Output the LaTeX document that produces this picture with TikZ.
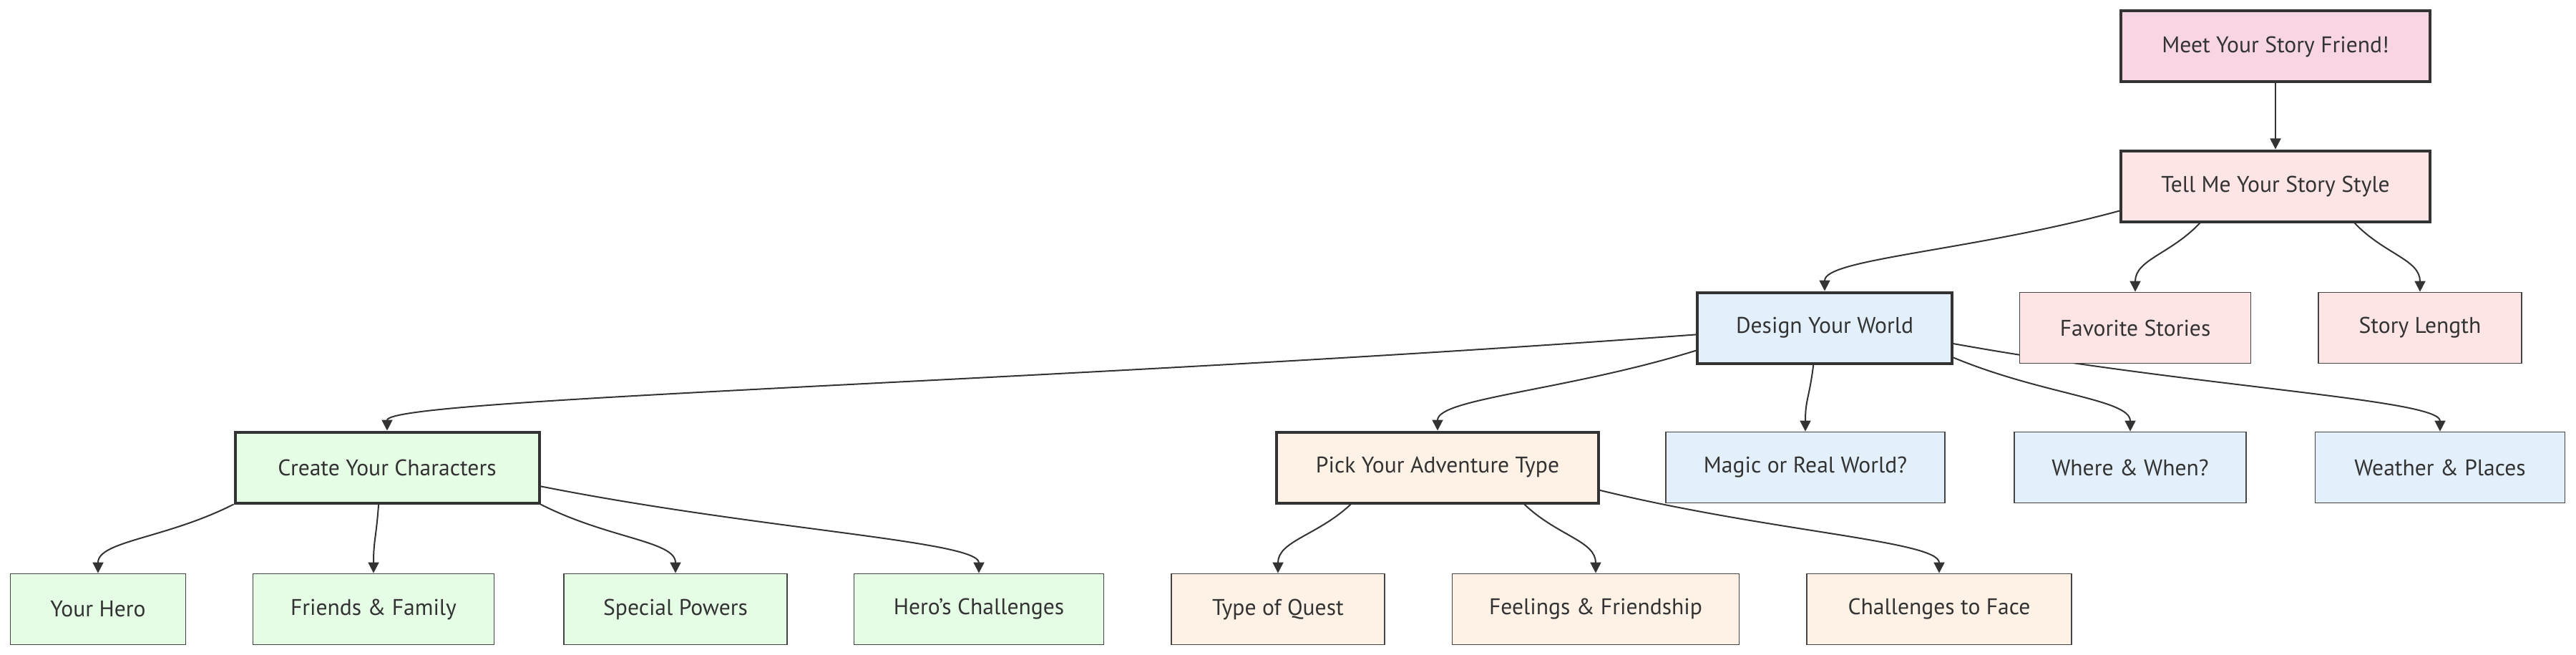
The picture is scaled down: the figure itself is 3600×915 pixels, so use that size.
\documentclass[tikz,border=0pt]{standalone}
\usepackage{fontspec}
\setmainfont{PT Sans}
\usetikzlibrary{arrows.meta,calc}

\definecolor{ink}{HTML}{333333}
\definecolor{rim}{HTML}{444444}
\definecolor{startpink}{HTML}{F8D5E5}
\definecolor{stylepink}{HTML}{FDE4E5}
\definecolor{worldblue}{HTML}{E3F0FC}
\definecolor{charagreen}{HTML}{E5FCE5}
\definecolor{adventorange}{HTML}{FEF1E5}

\pgfdeclarelayer{bg}
\pgfsetlayers{bg,main}

\tikzset{every picture/.style={line width=1pt}}
\tikzset{
  box/.style={rectangle, text=ink, font=\fontsize{15.8pt}{19pt}\selectfont, minimum height=49.5pt, inner sep=0pt, align=center},
  mainbox/.style={box, draw=ink, line width=2pt},
  subbox/.style={box, draw=rim, line width=0.9pt},
  flow/.style={draw=ink, line width=1pt, -{Triangle[length=7.5pt,width=7.5pt]}}
}

\begin{document}
\begin{tikzpicture}[x=0.5pt,y=0.5pt,yscale=-1,xscale=1]
\useasboundingbox (0,0) rectangle (3600,915);

% Text Node
\node [mainbox, fill=startpink, minimum width=216pt] (meet) at (3180,65) {Meet Your Story Friend!};
% Text Node
\node [mainbox, fill=stylepink, minimum width=216pt] (tell) at (3180,260) {Tell Me Your Story Style};
% Text Node
\node [mainbox, fill=worldblue, minimum width=178pt] (design) at (2550,458) {Design Your World};
% Text Node
\node [subbox, fill=stylepink, minimum width=161.5pt] (favorite) at (2984,458) {Favorite Stories};
% Text Node
\node [subbox, fill=stylepink, minimum width=142pt] (length) at (3382,458) {Story Length};
% Text Node
\node [mainbox, fill=charagreen, minimum width=212.5pt] (create) at (541,653) {Create Your Characters};
% Text Node
\node [mainbox, fill=adventorange, minimum width=225pt] (pick) at (2009,653) {Pick Your Adventure Type};
% Text Node
\node [subbox, fill=worldblue, minimum width=195pt] (magic) at (2523,653) {Magic or Real World?};
% Text Node
\node [subbox, fill=worldblue, minimum width=162pt] (where) at (2977,653) {Where \& When?};
% Text Node
\node [subbox, fill=worldblue, minimum width=174.5pt] (weather) at (3410,653) {Weather \& Places};
% Text Node
\node [subbox, fill=charagreen, minimum width=122.5pt] (hero) at (137,851) {Your Hero};
% Text Node
\node [subbox, fill=charagreen, minimum width=168.5pt] (friends) at (522,851) {Friends \& Family};
% Text Node
\node [subbox, fill=charagreen, minimum width=156pt] (powers) at (944,851) {Special Powers};
% Text Node
\node [subbox, fill=charagreen, minimum width=174.5pt] (herochal) at (1368,851) {Hero's Challenges};
% Text Node
\node [subbox, fill=adventorange, minimum width=149pt] (quest) at (1786,851) {Type of Quest};
% Text Node
\node [subbox, fill=adventorange, minimum width=200.5pt] (feelings) at (2230,851) {Feelings \& Friendship};
% Text Node
\node [subbox, fill=adventorange, minimum width=185pt] (facechal) at (2710,851) {Challenges to Face};

\begin{pgfonlayer}{bg}
% Connection
\draw [flow] (meet.south) -- (tell.north);
% Connection
\draw [flow] (tell.189) .. controls ($(tell.189)!0.5!(design.north)$) and ($(design.north)+(0,-45)$) .. (design.north);
% Connection
\draw [flow] (tell.206) .. controls ($(tell.206)!0.45!(favorite.north)$) and ($(favorite.north)+(0,-45)$) .. (favorite.north);
% Connection
\draw [flow] (tell.335) .. controls ($(tell.335)!0.45!(length.north)$) and ($(length.north)+(0,-45)$) .. (length.north);
% Connection
\draw [flow] (design.183) .. controls ($(design.183)!0.5!(create.north)$) and ($(create.north)+(0,-45)$) .. (create.north);
% Connection
\draw [flow] (design.190) .. controls ($(design.190)!0.5!(pick.north)$) and ($(pick.north)+(0,-45)$) .. (pick.north);
% Connection
\draw [flow] (design.253) .. controls ($(design.253)!0.5!(magic.north)$) and ($(magic.north)+(0,-45)$) .. (magic.north);
% Connection
\draw [flow] (design.347) .. controls ($(design.347)!0.5!(where.north)$) and ($(where.north)+(0,-45)$) .. (where.north);
% Connection
\draw [flow] (design.353) .. controls ($(design.353)!0.5!(weather.north)$) and ($(weather.north)+(0,-45)$) .. (weather.north);
% Connection
\draw [flow] (create.south west) .. controls ($(create.south west)!0.5!(hero.north)$) and ($(hero.north)+(0,-45)$) .. (hero.north);
% Connection
\draw [flow] (create.257) .. controls ($(create.257)!0.5!(friends.north)$) and ($(friends.north)+(0,-45)$) .. (friends.north);
% Connection
\draw [flow] (create.south east) .. controls ($(create.south east)!0.5!(powers.north)$) and ($(powers.north)+(0,-45)$) .. (powers.north);
% Connection
\draw [flow] (create.353) .. controls ($(create.353)!0.5!(herochal.north)$) and ($(herochal.north)+(0,-45)$) .. (herochal.north);
% Connection
\draw [flow] (pick.203) .. controls ($(pick.203)!0.45!(quest.north)$) and ($(quest.north)+(0,-45)$) .. (quest.north);
% Connection
\draw [flow] (pick.337) .. controls ($(pick.337)!0.45!(feelings.north)$) and ($(feelings.north)+(0,-45)$) .. (feelings.north);
% Connection
\draw [flow] (pick.352) .. controls ($(pick.352)!0.5!(facechal.north)$) and ($(facechal.north)+(0,-45)$) .. (facechal.north);
\end{pgfonlayer}

\end{tikzpicture}
\end{document}
